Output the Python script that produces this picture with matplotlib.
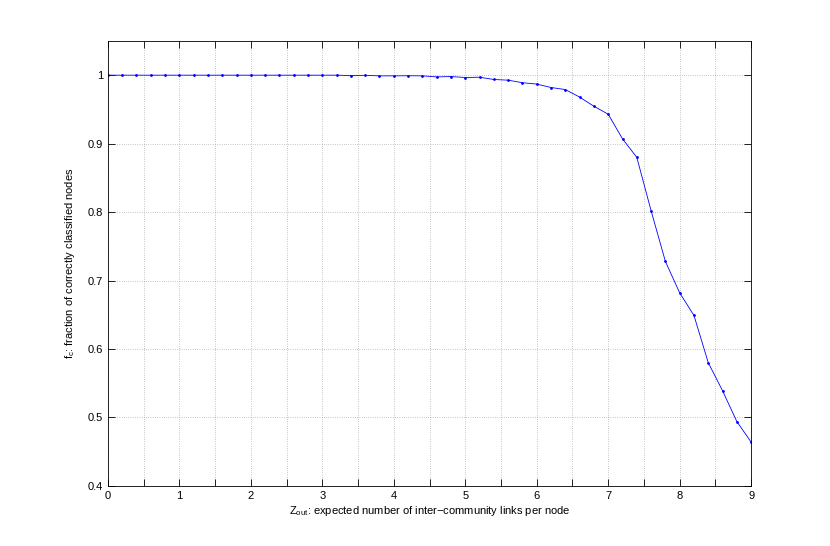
import numpy as np
import matplotlib
matplotlib.use("Agg")
import matplotlib.pyplot as plt

plt.rcParams['font.family'] = ['Liberation Sans', 'DejaVu Sans']
plt.rcParams['mathtext.fontset'] = 'custom'
plt.rcParams['mathtext.rm'] = 'Liberation Sans'
plt.rcParams['mathtext.it'] = 'Liberation Sans'

# expected inter-community links per node (0 to 9, step 0.2)
z_out = [0.0, 0.2, 0.4, 0.6, 0.8, 1.0, 1.2, 1.4, 1.6, 1.8,
         2.0, 2.2, 2.4, 2.6, 2.8, 3.0, 3.2, 3.4, 3.6, 3.8,
         4.0, 4.2, 4.4, 4.6, 4.8, 5.0, 5.2, 5.4, 5.6, 5.8,
         6.0, 6.2, 6.4, 6.6, 6.8, 7.0, 7.2, 7.4, 7.6, 7.8,
         8.0, 8.2, 8.4, 8.6, 8.8, 9.0]
# fraction of correctly classified nodes
f_c = [1.0, 1.0, 1.0, 1.0, 1.0, 1.0, 1.0, 1.0, 1.0, 1.0,
       1.0, 1.0, 1.0, 1.0, 1.0, 1.0, 1.0, 0.9995, 0.9998, 0.999,
       0.999, 0.9992, 0.999, 0.9975, 0.998, 0.9966, 0.997, 0.9937, 0.9927, 0.989,
       0.987, 0.982, 0.979, 0.968, 0.9546, 0.943, 0.907, 0.880, 0.802, 0.728,
       0.682, 0.649, 0.580, 0.539, 0.494, 0.464]

x_ticks = np.arange(0, 9.5, 0.5)
x_labels = [str(int(t)) if t == int(t) else '' for t in x_ticks]
y_ticks = [0.4, 0.5, 0.6, 0.7, 0.8, 0.9, 1.0]
y_labels = ['0.4', '0.5', '0.6', '0.7', '0.8', '0.9', '1']

fig = plt.figure(figsize=(8.3, 5.46), dpi=100)
ax = fig.add_axes([0.13, 0.11, 0.775, 0.815])

ax.plot(z_out, f_c, color='blue', linewidth=0.6, marker='.', markersize=2)

ax.set_xlim(0, 9)
ax.set_ylim(0.4, 1.05)
ax.set_xticks(x_ticks)
ax.set_xticklabels(x_labels)
ax.set_yticks(y_ticks)
ax.set_yticklabels(y_labels)
ax.tick_params(direction='in', top=True, right=True, labelsize=8, length=5, width=0.6)
ax.grid(True, linestyle=(0, (1, 3)), color='#555555', linewidth=0.4)
for s in ax.spines.values():
    s.set_linewidth(0.6)

ax.set_xlabel('Z$_{out}$: expected number of inter\u2212community links per node', fontsize=8, labelpad=2)
ax.set_ylabel('f$_c$: fraction of correctly classified nodes', fontsize=8, labelpad=8)

fig.savefig('out.png', dpi=100)
